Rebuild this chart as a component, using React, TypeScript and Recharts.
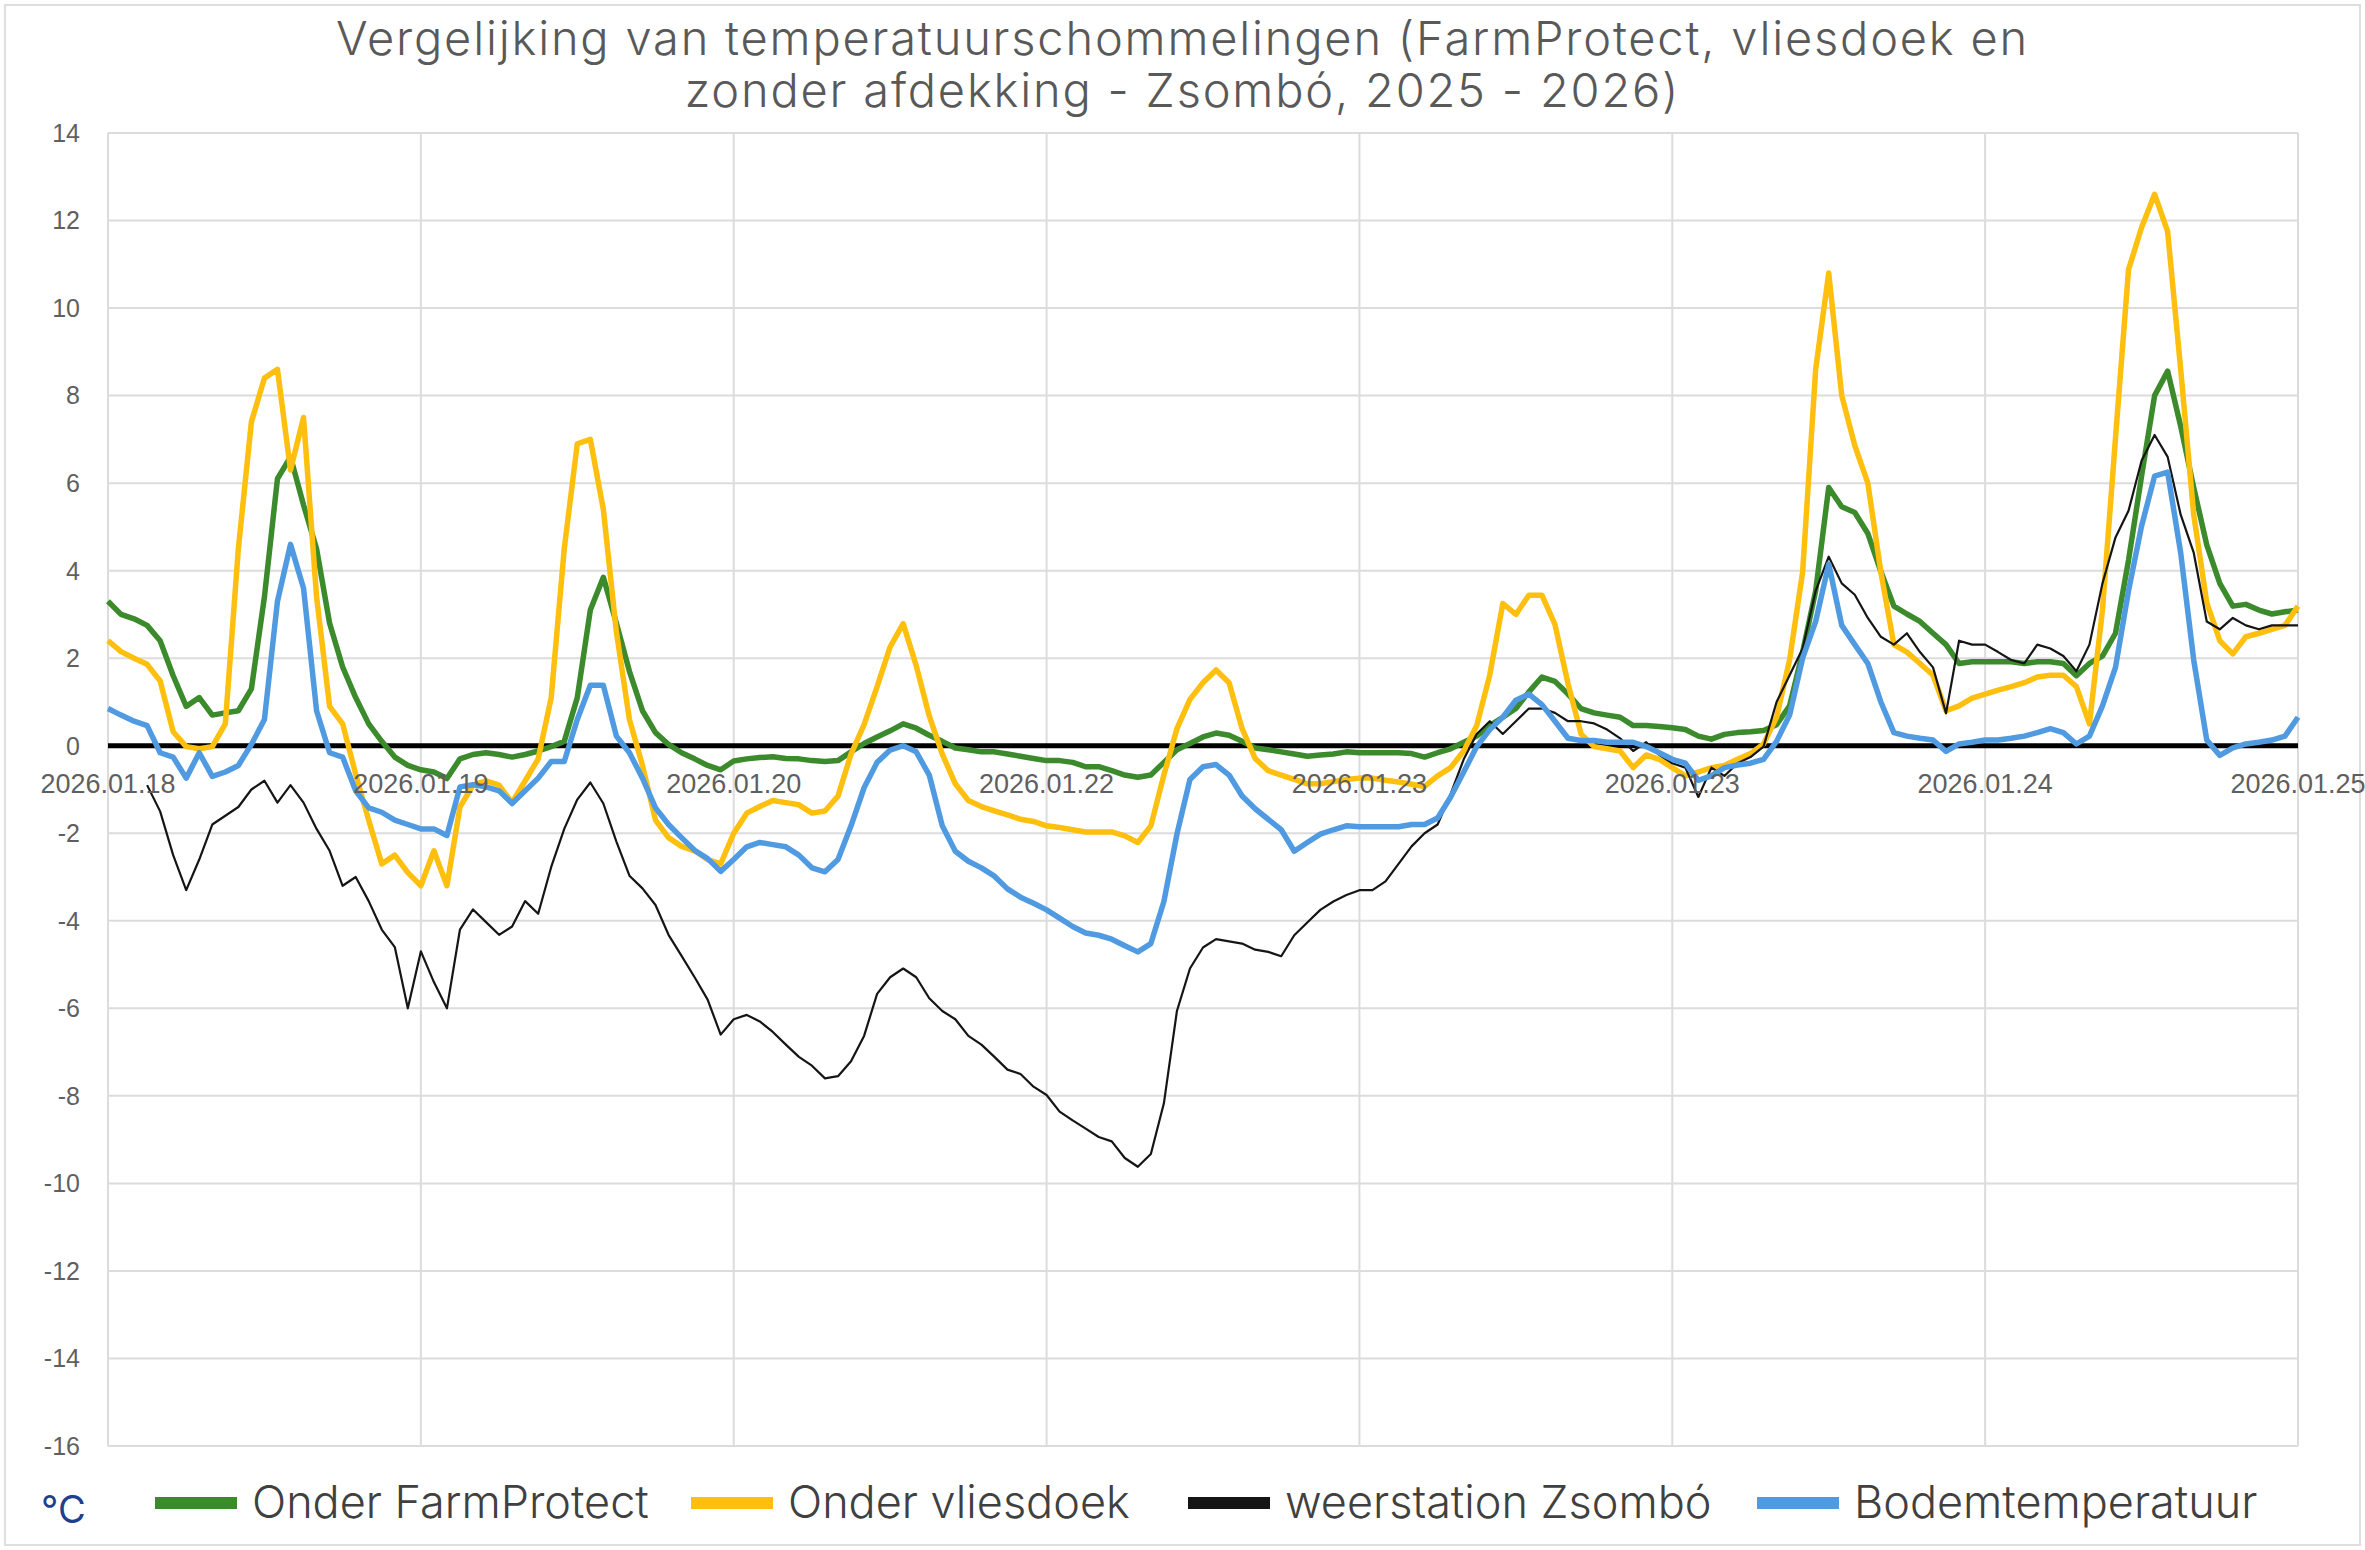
import { LineChart, Line, XAxis, YAxis, CartesianGrid, ReferenceLine } from 'recharts';

// one value per hour, starting 2026.01.18 00:00
const xTickHours = [0, 24, 48, 72, 96, 120, 144, 168];
const xTickLabels = [
  '2026.01.18',
  '2026.01.19',
  '2026.01.20',
  '2026.01.22',
  '2026.01.23',
  '2026.01.23',
  '2026.01.24',
  '2026.01.25',
];
const yTicks = [-16, -14, -12, -10, -8, -6, -4, -2, 0, 2, 4, 6, 8, 10, 12, 14];

const farmProtect = [
  3.3, 3.0, 2.9, 2.75, 2.4, 1.6, 0.9, 1.1, 0.7, 0.75, 0.8, 1.3, 3.4, 6.1, 6.6, 5.5, 4.5, 2.8, 1.8, 1.1, 0.5, 0.1, -0.26, -0.45,
  -0.55, -0.6, -0.75, -0.3, -0.2, -0.16, -0.2, -0.26, -0.2, -0.12, -0.02, 0.1, 1.1, 3.1, 3.85, 2.8, 1.7, 0.8, 0.3, 0.03, -0.16, -0.3, -0.45, -0.55,
  -0.35, -0.3, -0.27, -0.25, -0.29, -0.3, -0.34, -0.36, -0.34, -0.14, 0.05, 0.2, 0.34, 0.5, 0.4, 0.24, 0.1, -0.05, -0.09, -0.14, -0.14, -0.19, -0.24, -0.29,
  -0.34, -0.34, -0.38, -0.48, -0.48, -0.57, -0.67, -0.72, -0.67, -0.38, -0.09, 0.05, 0.2, 0.29, 0.24, 0.1, -0.05, -0.09, -0.14, -0.19, -0.24, -0.21, -0.19, -0.14,
  -0.16, -0.16, -0.16, -0.16, -0.18, -0.26, -0.16, -0.07, 0.08, 0.22, 0.46, 0.65, 0.85, 1.23, 1.57, 1.47, 1.18, 0.85, 0.75, 0.7, 0.65, 0.46, 0.46, 0.44,
  0.41, 0.37, 0.22, 0.15, 0.26, 0.3, 0.32, 0.35, 0.48, 0.91, 2.14, 3.54, 5.9, 5.46, 5.33, 4.85, 3.98, 3.19, 3.01, 2.84, 2.57, 2.31, 1.88, 1.92,
  1.92, 1.92, 1.92, 1.88, 1.92, 1.92, 1.88, 1.6, 1.88, 2.05, 2.57, 4.24, 6.16, 8.0, 8.56, 7.3, 5.9, 4.59, 3.71, 3.19, 3.23, 3.1, 3.01, 3.06,
  3.1,
];

const vliesdoek = [
  2.4, 2.15, 2.0, 1.86, 1.48, 0.32, -0.02, -0.07, -0.02, 0.5, 4.5, 7.4, 8.4, 8.6, 6.3, 7.5, 3.4, 0.9, 0.5, -0.65, -1.7, -2.7, -2.5, -2.9,
  -3.2, -2.4, -3.2, -1.4, -0.9, -0.8, -0.9, -1.3, -0.8, -0.3, 1.1, 4.5, 6.9, 7.0, 5.4, 2.6, 0.6, -0.45, -1.7, -2.1, -2.3, -2.4, -2.6, -2.7,
  -2.0, -1.54, -1.39, -1.25, -1.3, -1.35, -1.54, -1.49, -1.15, -0.19, 0.48, 1.35, 2.26, 2.79, 1.83, 0.68, -0.19, -0.87, -1.25, -1.39, -1.49, -1.58, -1.68, -1.73,
  -1.83, -1.87, -1.92, -1.97, -1.97, -1.97, -2.06, -2.21, -1.83, -0.67, 0.39, 1.06, 1.44, 1.73, 1.44, 0.39, -0.29, -0.57, -0.67, -0.77, -0.87, -0.87, -0.82, -0.77,
  -0.74, -0.74, -0.79, -0.83, -0.88, -0.93, -0.69, -0.5, -0.12, 0.46, 1.62, 3.25, 3.0, 3.44, 3.44, 2.77, 1.42, 0.27, -0.02, -0.07, -0.12, -0.5, -0.21, -0.31,
  -0.5, -0.69, -0.6, -0.5, -0.45, -0.31, -0.18, 0.04, 0.65, 1.96, 3.97, 8.6, 10.8, 8.0, 6.86, 6.0, 3.97, 2.31, 2.14, 1.88, 1.61, 0.8, 0.91, 1.09,
  1.18, 1.27, 1.35, 1.44, 1.57, 1.61, 1.61, 1.35, 0.5, 3.1, 7.03, 10.88, 11.84, 12.6, 11.75, 8.6, 5.28, 3.27, 2.4, 2.1, 2.49, 2.57, 2.66, 2.75,
  3.19,
];

const weerstation = [
  null, null, null, -0.9, -1.5, -2.5, -3.3, -2.6, -1.8, -1.6, -1.4, -1.0, -0.8, -1.3, -0.9, -1.3, -1.9, -2.4, -3.2, -3.0, -3.55, -4.2, -4.6, -6.0,
  -4.7, -5.4, -6.0, -4.2, -3.74, -4.03, -4.32, -4.13, -3.55, -3.84, -2.77, -1.9, -1.23, -0.84, -1.32, -2.19, -2.97, -3.26, -3.64, -4.32, -4.8, -5.29, -5.8, -6.6,
  -6.25, -6.15, -6.3, -6.54, -6.83, -7.11, -7.31, -7.6, -7.55, -7.21, -6.63, -5.67, -5.29, -5.09, -5.29, -5.77, -6.06, -6.25, -6.63, -6.83, -7.11, -7.4, -7.5, -7.79,
  -7.98, -8.36, -8.56, -8.75, -8.94, -9.04, -9.42, -9.62, -9.33, -8.17, -6.06, -5.09, -4.61, -4.42, -4.47, -4.52, -4.66, -4.71, -4.81, -4.33, -4.04, -3.75, -3.56, -3.41,
  -3.3, -3.3, -3.1, -2.7, -2.3, -2.0, -1.8, -1.1, -0.31, 0.27, 0.56, 0.27, 0.56, 0.85, 0.85, 0.75, 0.56, 0.56, 0.51, 0.37, 0.17, -0.12, 0.08, -0.21,
  -0.4, -0.5, -1.17, -0.5, -0.69, -0.4, -0.26, -0.02, 1.0, 1.61, 2.22, 3.54, 4.32, 3.71, 3.45, 2.92, 2.49, 2.31, 2.57, 2.14, 1.79, 0.74, 2.4, 2.31,
  2.31, 2.14, 1.96, 1.88, 2.31, 2.22, 2.05, 1.7, 2.31, 3.71, 4.76, 5.37, 6.51, 7.1, 6.6, 5.28, 4.41, 2.84, 2.66, 2.92, 2.75, 2.66, 2.75, 2.75,
  2.75,
];

const bodemtemperatuur = [
  0.85, 0.7, 0.56, 0.46, -0.16, -0.26, -0.74, -0.16, -0.7, -0.6, -0.45, 0.03, 0.6, 3.3, 4.6, 3.6, 0.8, -0.16, -0.26, -1.03, -1.42, -1.52, -1.7, -1.8,
  -1.9, -1.9, -2.05, -0.94, -0.89, -0.94, -1.03, -1.32, -1.03, -0.74, -0.36, -0.36, 0.6, 1.38, 1.38, 0.22, -0.16, -0.74, -1.42, -1.8, -2.1, -2.39, -2.58, -2.87,
  -2.6, -2.31, -2.21, -2.26, -2.31, -2.5, -2.79, -2.88, -2.6, -1.83, -0.96, -0.38, -0.1, 0.0, -0.14, -0.67, -1.83, -2.41, -2.64, -2.79, -2.98, -3.27, -3.46, -3.6,
  -3.75, -3.94, -4.13, -4.28, -4.33, -4.42, -4.57, -4.71, -4.52, -3.56, -2.02, -0.77, -0.48, -0.43, -0.67, -1.15, -1.44, -1.68, -1.92, -2.41, -2.21, -2.02, -1.92, -1.83,
  -1.85, -1.85, -1.85, -1.85, -1.8, -1.8, -1.65, -1.17, -0.6, -0.02, 0.37, 0.65, 1.04, 1.18, 0.94, 0.56, 0.17, 0.12, 0.12, 0.08, 0.08, 0.08, -0.02, -0.16,
  -0.31, -0.4, -0.79, -0.69, -0.5, -0.44, -0.4, -0.31, 0.1, 0.7, 2.0, 2.84, 4.15, 2.75, 2.31, 1.88, 1.0, 0.3, 0.22, 0.17, 0.13, -0.13, 0.04, 0.08,
  0.13, 0.13, 0.17, 0.22, 0.3, 0.39, 0.3, 0.04, 0.22, 0.91, 1.79, 3.54, 5.02, 6.16, 6.25, 4.41, 1.96, 0.13, -0.22, -0.05, 0.04, 0.08, 0.13, 0.22,
  0.65,
];

const series = [
  { key: 'farm', name: 'Onder FarmProtect', color: '#3b8a2b', width: 5.5 },
  { key: 'vlies', name: 'Onder vliesdoek', color: '#ffbf0f', width: 5.5 },
  { key: 'weer', name: 'weerstation Zsombó', color: '#151515', width: 2.2 },
  { key: 'bodem', name: 'Bodemtemperatuur', color: '#4f9ae0', width: 5.5 },
];

const data = farmProtect.map((v, i) => ({
  hour: i,
  farm: v,
  vlies: vliesdoek[i],
  weer: weerstation[i],
  bodem: bodemtemperatuur[i],
}));

const W = 2365;
const H = 1550;
const PLOT_TOP = 133;
const PLOT_BOTTOM = 1446;
const Y_MIN = -16;
const Y_MAX = 14;
// date labels sit just under the zero line, like Excel's crossing axis
const zeroY = PLOT_TOP + ((Y_MAX - 0) / (Y_MAX - Y_MIN)) * (PLOT_BOTTOM - PLOT_TOP);

const tickFont = '"Liberation Sans", Arial, sans-serif';
const textFont = 'Inter, "Noto Sans", sans-serif';

function DateTick(props: any) {
  const { x, payload } = props;
  const i = xTickHours.indexOf(payload.value);
  return (
    <text
      x={x}
      y={zeroY + 47}
      textAnchor="middle"
      fontSize={27}
      fontFamily={tickFont}
      fill="#5f5f5f"
    >
      {xTickLabels[i]}
    </text>
  );
}

const legendPos = [155, 691, 1188, 1757];

export default function App() {
  return (
    <div style={{ position: 'absolute', left: 0, top: 0, width: W, height: H, background: '#fff' }}>
      <div
        style={{
          position: 'absolute',
          left: 4,
          top: 4,
          width: W - 12,
          height: H - 12,
          border: '2px solid #dedede',
        }}
      />
      <div
        style={{
          position: 'absolute',
          left: 0,
          top: 12,
          width: W,
          textAlign: 'center',
          fontFamily: textFont,
          fontSize: 47,
          fontWeight: 300,
          letterSpacing: '1.8px',
          lineHeight: '52px',
          color: '#595959',
        }}
      >
        Vergelijking van temperatuurschommelingen (FarmProtect, vliesdoek en
        <br />
        zonder afdekking - Zsombó, 2025 - 2026)
      </div>

      <div style={{ position: 'absolute', left: 0, top: 0 }}>
        <LineChart width={W} height={H} data={data} margin={{ top: PLOT_TOP, right: 67, bottom: 0, left: 0 }}>
          <CartesianGrid stroke="#dcdcdc" strokeWidth={2} />
          <XAxis
            type="number"
            dataKey="hour"
            domain={[0, 168]}
            ticks={xTickHours}
            interval={0}
            height={H - PLOT_BOTTOM}
            axisLine={false}
            tickLine={false}
            tick={<DateTick />}
          />
          <YAxis
            type="number"
            domain={[Y_MIN, Y_MAX]}
            ticks={yTicks}
            interval={0}
            width={108}
            tickSize={0}
            tickMargin={28}
            axisLine={false}
            tickLine={false}
            allowDataOverflow
            tick={{ fontSize: 25, fill: '#5f5f5f', fontFamily: tickFont }}
          />
          <ReferenceLine y={0} stroke="#000" strokeWidth={5} />
          {series.map((s) => (
            <Line
              key={s.key}
              type="linear"
              dataKey={s.key}
              name={s.name}
              stroke={s.color}
              strokeWidth={s.width}
              dot={false}
              activeDot={false}
              strokeLinejoin="round"
              isAnimationActive={false}
            />
          ))}
        </LineChart>
      </div>

      <div
        style={{
          position: 'absolute',
          left: 41,
          top: 1484,
          fontFamily: textFont,
          fontSize: 38,
          lineHeight: '50px',
          color: '#203f8f',
        }}
      >
        °C
      </div>
      {series.map((s, i) => (
        <div key={s.key}>
          <div
            style={{
              position: 'absolute',
              left: legendPos[i],
              top: 1497,
              width: 82,
              height: 12,
              background: s.color,
            }}
          />
          <div
            style={{
              position: 'absolute',
              left: legendPos[i] + 97,
              top: 1477,
              fontFamily: textFont,
              fontSize: 45,
              fontWeight: 300,
              lineHeight: '50px',
              color: '#404040',
              whiteSpace: 'nowrap',
            }}
          >
            {s.name}
          </div>
        </div>
      ))}
    </div>
  );
}
